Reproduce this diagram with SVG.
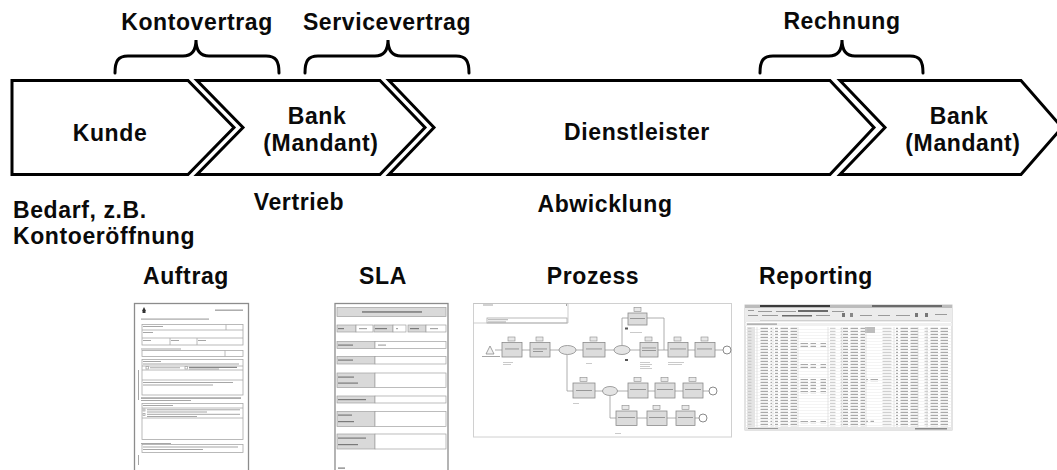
<svg xmlns="http://www.w3.org/2000/svg" width="1057" height="470" viewBox="0 0 1057 470">
  <style>
    .lbl { font-family: "Liberation Sans", Arial, Helvetica, sans-serif; font-weight: bold; font-size: 23px; letter-spacing: 0.6px; fill: #0a0a0a; }
    .mid { text-anchor: middle; }
    .stage { fill: #fff; stroke: #000; stroke-width: 3; stroke-linejoin: miter; }
    .brace { fill: none; stroke: #000; stroke-width: 3; stroke-linecap: round; }
    .frame { fill: #fff; stroke: #8c8c8c; stroke-width: 1.3; }
    .thin { fill: none; stroke: #a8a8a8; stroke-width: 0.8; }
    .cell { fill: #d9d9d9; stroke: #a0a0a0; stroke-width: 0.7; }
    .wcell { fill: #fff; stroke: #a0a0a0; stroke-width: 0.7; }
    .txt { fill: #a6a6a6; }
    .txtd { fill: #7a7a7a; }
    .task { fill: #dcdcdc; stroke: #8a8a8a; stroke-width: 0.8; }
    .flow { fill: none; stroke: #9a9a9a; stroke-width: 0.8; }
    .gw { fill: #e4e4e4; stroke: #8a8a8a; stroke-width: 0.8; }
    .end { fill: #fff; stroke: #8a8a8a; stroke-width: 1; }
  </style>
  <defs>
    <filter id="soft" x="-5%" y="-5%" width="110%" height="110%">
      <feGaussianBlur stdDeviation="0.6"/>
    </filter>
    <pattern id="rows" width="10" height="3" patternUnits="userSpaceOnUse">
      <rect x="0.5" y="0.8" width="7.5" height="1.1" fill="#a0a0a0"/>
    </pattern>
    <pattern id="rowsLight" width="14" height="3" patternUnits="userSpaceOnUse">
      <rect x="0.5" y="0.8" width="9" height="1" fill="#c4c4c4"/>
    </pattern>
    <pattern id="grid" width="207" height="3" patternUnits="userSpaceOnUse">
      <rect x="0" y="2.6" width="207" height="0.4" fill="#e2e2e2"/>
    </pattern>
  </defs>

  <!-- process chain -->
  <g id="stage-kunde">
    <path class="stage" d="M12,80.5 H188 L234,127.5 L188,174.5 H12 Z"/>
    <text class="lbl mid" x="110" y="141">Kunde</text>
  </g>
  <g id="stage-bank">
    <path class="stage" d="M197,80.5 H380 L425,127.5 L380,174.5 H197 L243,127.5 Z"/>
    <text class="lbl mid" x="317" y="123.5">Bank</text>
    <text class="lbl mid" x="321" y="151">(Mandant)</text>
  </g>
  <g id="stage-dienstleister">
    <path class="stage" d="M389,80.5 H830 L874,127.5 L830,174.5 H389 L434,127.5 Z"/>
    <text class="lbl mid" x="637" y="140">Dienstleister</text>
  </g>
  <g id="stage-bank-2">
    <path class="stage" d="M840,80.5 H1021 L1062,127.5 L1021,174.5 H840 L885,127.5 Z"/>
    <text class="lbl mid" x="959" y="123.5">Bank</text>
    <text class="lbl mid" x="963" y="151">(Mandant)</text>
  </g>

  <!-- contracts between the parties -->
  <g id="connectors">
    <g id="contract-konto">
      <path class="brace" d="M115,73 C115,61 118,56 128,56 H183 C191,56 196,52 196,40 C196,52 201,56 209,56 H266 C276,56 279,61 279,73"/>
      <text class="lbl mid" x="197" y="30">Kontovertrag</text>
    </g>
    <g id="contract-service">
      <path class="brace" d="M305,73 C305,61 308,56 318,56 H375 C383,56 388,52 388,40 C388,52 393,56 401,56 H456 C466,56 469,61 469,73"/>
      <text class="lbl mid" x="387" y="30">Servicevertrag</text>
    </g>
    <g id="contract-rechnung">
      <path class="brace" d="M760,73 C760,61 763,56 773,56 H829 C837,56 842,52 842,40 C842,52 847,56 855,56 H910 C920,56 923,61 923,73"/>
      <text class="lbl mid" x="842" y="29">Rechnung</text>
    </g>
  </g>

  <!-- roles under the chain -->
  <g id="roles">
    <text class="lbl" x="13" y="218">Bedarf, z.B.</text>
    <text class="lbl" x="13" y="244">Kontoeröffnung</text>
    <text class="lbl mid" x="299" y="210">Vertrieb</text>
    <text class="lbl mid" x="605" y="212">Abwicklung</text>
  </g>

  <!-- document captions -->
  <g id="captions">
    <text class="lbl mid" x="186" y="284">Auftrag</text>
    <text class="lbl mid" x="383" y="284">SLA</text>
    <text class="lbl mid" x="593" y="284">Prozess</text>
    <text class="lbl mid" x="816" y="284">Reporting</text>
  </g>

  <!-- order form -->
  <g id="doc-auftrag" filter="url(#soft)">
    <rect class="frame" x="134.5" y="303.5" width="114" height="172"/>
    <path d="M142,311 l2,-4 l2,4 z M142.5,311 h3 v2 h-3 z" fill="#333"/>
    <rect class="txt" x="215" y="309.5" width="28" height="1.4"/>
    <rect class="txt" x="141" y="318.5" width="68" height="1.2"/>
    <rect class="thin" x="142" y="324.5" width="101" height="20.5"/>
    <path class="thin" d="M142,330 H243 M142,338 H243 M226,324.5 V330 M170,338 V345 M197,338 V345"/>
    <rect class="txt" x="143" y="326" width="20" height="1"/>
    <rect class="txt" x="143" y="332" width="10" height="1"/>
    <rect class="txt" x="143" y="340" width="8" height="1"/>
    <rect class="txt" x="171" y="340" width="8" height="1"/>
    <rect class="txt" x="198" y="340" width="8" height="1"/>
    <rect class="txt" x="141" y="348.5" width="40" height="1"/>
    <rect class="thin" x="142" y="350.5" width="101" height="6"/>
    <path class="thin" d="M225,350.5 V356.5"/>
    <rect class="thin" x="142" y="359.5" width="101" height="35.5"/>
    <path class="thin" d="M142,366 H243 M142,370 H243 M142,380 H243"/>
    <rect class="txt" x="143" y="361" width="18" height="1"/>
    <rect class="txt" x="143" y="363.5" width="96" height="1"/>
    <rect class="thin" x="146" y="366.5" width="2.5" height="2.5"/>
    <rect class="txt" x="150" y="367.3" width="30" height="1"/>
    <rect class="thin" x="185" y="366.5" width="2.5" height="2.5"/>
    <rect class="txtd" x="189" y="366.8" width="48" height="1.1"/>
    <rect class="txt" x="189" y="368.5" width="30" height="1"/>
    <rect class="txt" x="143" y="382" width="90" height="1"/>
    <rect class="txt" x="143" y="384.5" width="70" height="1"/>
    <rect class="txt" x="138" y="370" width="1" height="30"/>
    <rect class="txtd" x="141" y="397.5" width="100" height="1.1"/>
    <rect class="txt" x="141" y="400" width="50" height="1"/>
    <rect class="thin" x="142" y="403.5" width="101" height="36"/>
    <path class="thin" d="M142,408 H243 M142,418 H243"/>
    <rect class="txt" x="143" y="405" width="30" height="1"/>
    <rect class="thin" x="143" y="409" width="2" height="2"/>
    <rect class="txt" x="147" y="409.3" width="93" height="1"/>
    <rect class="txt" x="147" y="411.5" width="60" height="1"/>
    <rect class="thin" x="143" y="413.5" width="2" height="2"/>
    <rect class="txt" x="147" y="413.8" width="93" height="1"/>
    <rect class="txt" x="147" y="416" width="50" height="1"/>
    <rect class="txt" x="141" y="443" width="30" height="1"/>
    <rect class="thin" x="142" y="444.5" width="101" height="8"/>
    <rect class="txt" x="143" y="446.5" width="95" height="1"/>
    <rect class="txt" x="143" y="449" width="60" height="1"/>
    <rect class="txt" x="138" y="455" width="1" height="10"/>
  </g>

  <!-- service level agreement -->
  <g id="doc-sla" filter="url(#soft)">
    <rect class="frame" x="335" y="303.5" width="113" height="172" stroke-width="1.8"/>
    <rect class="cell" x="337" y="307.5" width="109" height="9"/>
    <rect class="txtd" x="362" y="311.2" width="60" height="1.5"/>
    <rect class="cell" x="337" y="325" width="19" height="7"/>
    <rect class="wcell" x="356" y="325" width="17" height="7"/>
    <rect class="cell" x="374" y="325" width="19" height="7"/>
    <rect class="wcell" x="393" y="325" width="13" height="7"/>
    <rect class="cell" x="408" y="325" width="18" height="7"/>
    <rect class="wcell" x="426" y="325" width="20" height="7"/>
    <rect class="txtd" x="338" y="328" width="6" height="1.2"/>
    <rect class="txt" x="359" y="328" width="8" height="1.2"/>
    <rect class="txtd" x="375" y="328" width="12" height="1.2"/>
    <rect class="txt" x="396" y="328" width="2" height="1.2"/>
    <rect class="txtd" x="410" y="328" width="9" height="1.2"/>
    <rect class="txt" x="430" y="328" width="8" height="1.2"/>

    <rect class="cell" x="337" y="341.5" width="38" height="7"/>
    <rect class="wcell" x="375" y="341.5" width="71" height="7"/>
    <rect class="txtd" x="338" y="344.5" width="15" height="1.2"/>
    <rect class="txt" x="378" y="344.5" width="8" height="1.2"/>

    <rect class="cell" x="337" y="356.5" width="38" height="7.5"/>
    <rect class="wcell" x="375" y="356.5" width="71" height="7.5"/>
    <rect class="txtd" x="338" y="359.5" width="15" height="1.2"/>

    <rect class="cell" x="337" y="373" width="38" height="14.5"/>
    <rect class="wcell" x="375" y="373" width="71" height="14.5"/>
    <rect class="txtd" x="338" y="376.5" width="16" height="1.2"/>
    <rect class="txtd" x="338" y="382.5" width="20" height="1.2"/>

    <rect class="cell" x="337" y="396" width="38" height="7"/>
    <rect class="wcell" x="375" y="396" width="71" height="7"/>
    <rect class="txtd" x="338" y="399" width="28" height="1.2"/>

    <rect class="cell" x="337" y="411.5" width="38" height="15"/>
    <rect class="wcell" x="375" y="411.5" width="71" height="15"/>
    <rect class="txtd" x="338" y="414.5" width="14" height="1.2"/>
    <rect class="txtd" x="338" y="421" width="16" height="1.2"/>

    <rect class="cell" x="337" y="434" width="38" height="15"/>
    <rect class="wcell" x="375" y="434" width="71" height="15"/>
    <rect class="txtd" x="338" y="437.5" width="28" height="1.2"/>
    <rect class="txtd" x="338" y="444" width="20" height="1.2"/>

    <rect class="txtd" x="338" y="467.5" width="7" height="1.2"/>
  </g>

  <!-- process model -->
  <g id="doc-prozess" filter="url(#soft)">
    <rect x="473.5" y="303.5" width="258" height="133.5" fill="#fff" stroke="#d0d0d0" stroke-width="1"/>
    <path d="M473.5,303.5 H568 V323 H473.5" fill="none" stroke="#c0c0c0" stroke-width="0.8"/>
    <rect class="txt" x="483" y="304.5" width="10" height="1"/>
    <rect class="txt" x="566" y="304" width="1" height="2"/>
    <rect class="thin" x="487" y="318" width="80" height="5"/>
    <rect class="txt" x="488" y="319.3" width="20" height="0.9"/>
    <rect class="txt" x="488" y="321.5" width="18" height="0.9"/>

    <!-- main flow -->
    <path class="flow" d="M495,350 H502 M522,350 H530 M550,350 H559 M576,350 H583 M605,350 H614 M630,350 H640 M658,350 H668 M688,350 H695 M715,350 H723"/>
    <path class="flow" d="M622,345 V318 H628 M647,318 H664 V350"/>
    <path class="flow" d="M567,355 V391 H573 M595,391 H603 M617,391 H628 M648,391 H655 M675,391 H683 M703,391 H709"/>
    <path class="flow" d="M610,396 V418 H616 M637,418 H647 M667,418 H676 M695,418 H699"/>

    <path d="M486,354 L490,346 L494,354 Z" fill="#f2f2f2" stroke="#8a8a8a" stroke-width="0.8"/>
    <rect class="txt" x="482" y="356" width="18" height="1"/>

    <g id="proc-tasks">
      <rect class="task" x="502" y="342.5" width="20" height="14.5"/>
      <rect class="task" x="530" y="342.5" width="20" height="14.5"/>
      <rect class="task" x="583" y="342.5" width="22" height="14.5"/>
      <rect class="task" x="640" y="342.5" width="18" height="14.5"/>
      <rect class="task" x="668" y="342.5" width="20" height="14.5"/>
      <rect class="task" x="695" y="342.5" width="20" height="14.5"/>
      <rect class="task" x="628" y="313" width="19" height="12"/>
      <rect class="task" x="573" y="383" width="22" height="15"/>
      <rect class="task" x="628" y="383" width="20" height="15"/>
      <rect class="task" x="655" y="383" width="20" height="15"/>
      <rect class="task" x="683" y="383" width="20" height="15"/>
      <rect class="task" x="616" y="411" width="21" height="14.5"/>
      <rect class="task" x="647" y="411" width="20" height="14.5"/>
      <rect class="task" x="676" y="411" width="19" height="14.5"/>
    </g>
    <g fill="#e8e8e8" stroke="#8a8a8a" stroke-width="0.6">
      <rect x="508" y="337" width="7" height="4"/>
      <rect x="536" y="337" width="7" height="4"/>
      <rect x="590" y="337" width="7" height="4"/>
      <rect x="645" y="337" width="7" height="4"/>
      <rect x="674" y="337" width="7" height="4"/>
      <rect x="701" y="337" width="7" height="4"/>
      <rect x="634" y="307.5" width="7" height="4"/>
      <rect x="580" y="377.5" width="7" height="4"/>
      <rect x="634" y="377.5" width="7" height="4"/>
      <rect x="661" y="377.5" width="7" height="4"/>
      <rect x="689" y="377.5" width="7" height="4"/>
      <rect x="622" y="405.5" width="7" height="4"/>
      <rect x="653" y="405.5" width="7" height="4"/>
      <rect x="682" y="405.5" width="7" height="4"/>
    </g>
    <g fill="#8f8f8f">
      <rect x="505" y="348.5" width="14" height="0.9"/>
      <rect x="533" y="348.5" width="14" height="0.9"/>
      <rect x="533" y="351" width="10" height="0.9"/>
      <rect x="586" y="348.5" width="16" height="0.9"/>
      <rect x="642" y="347.5" width="14" height="0.9"/>
      <rect x="642" y="350" width="14" height="0.9"/>
      <rect x="670" y="348.5" width="16" height="0.9"/>
      <rect x="697" y="348.5" width="15" height="0.9"/>
      <rect x="630" y="318" width="15" height="0.9"/>
      <rect x="576" y="390" width="16" height="0.9"/>
      <rect x="630" y="389" width="16" height="0.9"/>
      <rect x="657" y="389" width="16" height="0.9"/>
      <rect x="685" y="389" width="16" height="0.9"/>
      <rect x="618" y="417" width="17" height="0.9"/>
      <rect x="649" y="417" width="16" height="0.9"/>
      <rect x="678" y="417" width="15" height="0.9"/>
    </g>
    <ellipse class="gw" cx="567.5" cy="350" rx="8.5" ry="4.5"/>
    <ellipse class="gw" cx="622" cy="350" rx="8" ry="4.5"/>
    <ellipse class="gw" cx="610" cy="391" rx="7.5" ry="4.5"/>
    <circle class="end" cx="727" cy="350" r="4"/>
    <circle class="end" cx="713" cy="391" r="4"/>
    <circle class="end" cx="703" cy="418" r="4"/>
    <g fill="#bdbdbd">
      <rect x="503" y="362" width="10" height="0.8"/>
      <rect x="503" y="364" width="8" height="0.8"/>
      <rect x="586" y="363" width="6" height="0.8"/>
      <rect x="640" y="362" width="10" height="0.8"/>
      <rect x="640" y="364" width="12" height="0.8"/>
      <rect x="640" y="366" width="10" height="0.8"/>
      <rect x="640" y="368" width="12" height="0.8"/>
      <rect x="668" y="362" width="16" height="0.8"/>
      <rect x="668" y="364" width="14" height="0.8"/>
      <rect x="630" y="332" width="12" height="0.8"/>
      <rect x="573" y="403" width="6" height="0.8"/>
      <rect x="615" y="433" width="6" height="0.8"/>
    </g>
    <rect x="625" y="359" width="3" height="2" fill="#555"/>
    <rect x="625" y="327.5" width="3" height="2" fill="#555"/>
  </g>

  <!-- report sheet -->
  <g id="doc-reporting" filter="url(#soft)">
    <rect x="745" y="305" width="207" height="125" fill="#fff" stroke="#c8c8c8" stroke-width="1"/>
    <rect x="745" y="305" width="207" height="3" fill="#bcbcbc"/>
    <rect x="760" y="305" width="70" height="2" fill="#3a3a3a"/>
    <rect x="872" y="305" width="70" height="2" fill="#6a6a6a"/>
    <rect x="745" y="308" width="207" height="14" fill="#ececec"/>
    <g fill="#9a9a9a">
      <rect x="748" y="310" width="6" height="1"/>
      <rect x="758" y="311" width="14" height="1"/>
      <rect x="776" y="311" width="20" height="1"/>
      <rect x="798" y="310" width="30" height="2" fill="#6a6a6a"/>
      <rect x="832" y="311" width="12" height="1"/>
      <rect x="748" y="315" width="10" height="1"/>
      <rect x="762" y="315" width="16" height="1"/>
      <rect x="782" y="315" width="30" height="1.5" fill="#6a6a6a"/>
      <rect x="816" y="315" width="14" height="1"/>
      <rect x="842" y="313" width="3" height="4" fill="#777"/>
      <rect x="850" y="313" width="3" height="4" fill="#888"/>
      <rect x="860" y="315" width="12" height="1"/>
      <rect x="878" y="315" width="12" height="1"/>
      <rect x="896" y="315" width="14" height="1"/>
      <rect x="915" y="313" width="3" height="4" fill="#777"/>
      <rect x="925" y="313" width="3" height="4" fill="#777"/>
      <rect x="935" y="314" width="12" height="1"/>
      <rect x="760" y="320" width="180" height="0.8" fill="#c8c8c8"/>
    </g>
    <rect x="745" y="323" width="207" height="3" fill="#f0f0f0"/>
    <rect x="747" y="323.5" width="30" height="1.2" fill="#999"/>
    <rect x="745" y="327" width="207" height="100" fill="url(#grid)"/>
    <g>
      <rect x="747" y="327" width="8" height="100" fill="#e4e4e4"/>
      <rect x="748" y="327" width="6" height="100" fill="url(#rowsLight)"/>
      <rect x="758" y="327" width="14" height="100" fill="url(#rows)"/>
      <rect x="775" y="327" width="22" height="100" fill="url(#rows)"/>
      <rect x="800" y="343" width="16" height="4" fill="url(#rows)"/>
      <rect x="800" y="364" width="16" height="4" fill="url(#rows)"/>
      <rect x="800" y="379" width="16" height="10" fill="url(#rows)"/>
      <rect x="800" y="391" width="16" height="3" fill="url(#rows)"/>
      <rect x="800" y="421" width="16" height="3" fill="url(#rows)"/>
      <rect x="818" y="343" width="8" height="4" fill="url(#rows)"/>
      <rect x="818" y="364" width="8" height="4" fill="url(#rows)"/>
      <rect x="818" y="379" width="8" height="10" fill="url(#rows)"/>
      <rect x="818" y="391" width="8" height="3" fill="url(#rows)"/>
      <rect x="818" y="421" width="8" height="3" fill="url(#rows)"/>
      <rect x="830" y="327" width="12" height="100" fill="url(#rowsLight)"/>
      <rect x="843" y="327" width="22" height="100" fill="url(#rows)"/>
      <rect x="865" y="327" width="10" height="6" fill="#bdbdbd"/>
      <rect x="866" y="379" width="12" height="3" fill="url(#rows)"/>
      <rect x="866" y="420" width="8" height="3" fill="url(#rows)"/>
      <rect x="878" y="327" width="18" height="100" fill="url(#rowsLight)"/>
      <rect x="896" y="327" width="22" height="100" fill="url(#rows)"/>
      <rect x="920" y="327" width="8" height="100" fill="url(#rowsLight)"/>
      <rect x="928" y="327" width="22" height="100" fill="url(#rows)"/>
    </g>
    <path d="M757,327 V427 M773,327 V427 M798,327 V427 M828,327 V427 M842,327 V427 M866,327 V427 M894,327 V427 M918,327 V427 M927,327 V427" stroke="#d4d4d4" stroke-width="0.6"/>
    <rect x="745" y="427" width="207" height="3" fill="#e6e6e6"/>
    <rect x="748" y="428" width="30" height="1" fill="#999"/>
    <rect x="915" y="428" width="32" height="1.5" fill="#888"/>
  </g>
</svg>
